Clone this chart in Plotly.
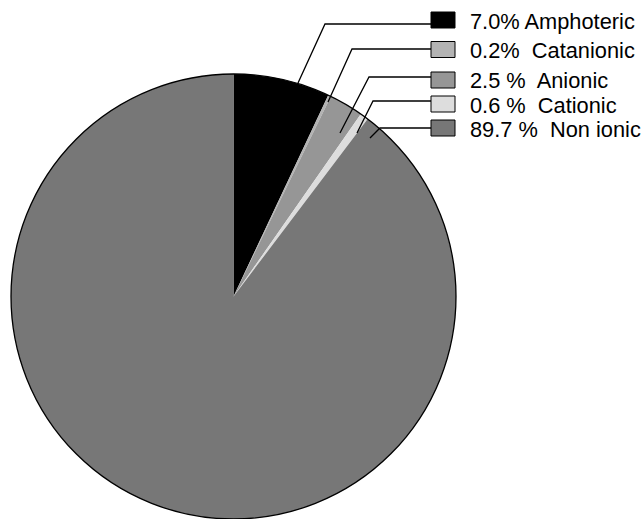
import plotly.graph_objects as go

# ---- data ----
categories = ["Amphoteric", "Catanionic", "Anionic", "Cationic", "Non ionic"]
values = [7.0, 0.2, 2.5, 0.6, 89.7]
label_texts = ["7.0% Amphoteric", "0.2%\u00a0 Catanionic", "2.5 %\u00a0 Anionic",
               "0.6 %\u00a0 Cationic", "89.7 %\u00a0 Non ionic"]
colors = ["#000000", "#b3b3b3", "#969696", "#dddddd", "#777777"]

W, H = 642, 519

# ---- layout geometry (pixels) ----
pie_cx, pie_top, pie_bottom, pie_left, pie_right = 234, 74, 519, 11, 456
# leader lines: anchor on slice -> elbow -> legend box
leaders = [
    [(298, 83), (325, 24), (431, 24)],
    [(328, 102), (352, 49), (431, 49)],
    [(340, 133), (369, 77), (431, 77)],
    [(357, 133), (373, 101), (431, 101)],
    [(370, 138), (380, 128), (431, 128)],
]
row_y = [20, 49.5, 80, 104, 128]
box_x0, box_x1, box_h = 431, 455, 16
text_x = 468


def px(x):
    return x / W


def py(y):
    return 1 - y / H


fig = go.Figure()
dom = dict(x=[px(pie_left), px(pie_right)], y=[py(pie_bottom), py(pie_top)])
fig.add_trace(go.Pie(
    labels=categories, values=values, sort=False, direction="clockwise",
    rotation=0, marker=dict(colors=colors, line=dict(width=0)),
    textinfo="none", hoverinfo="label+percent", showlegend=False, domain=dom,
))
# outline circle
fig.add_trace(go.Pie(
    values=[1], sort=False, marker=dict(colors=["rgba(0,0,0,0)"], line=dict(color="black", width=1.3)),
    textinfo="none", hoverinfo="skip", showlegend=False, domain=dom,
))

shapes = []
for pts in leaders:
    path = "M " + " L ".join(f"{px(x)},{py(y)}" for x, y in pts)
    shapes.append(dict(type="path", path=path, xref="paper", yref="paper",
                       line=dict(color="black", width=1.3)))
annotations = []
for i, (t, c) in enumerate(zip(label_texts, colors)):
    yc = row_y[i]
    shapes.append(dict(type="rect", xref="paper", yref="paper",
                       x0=px(box_x0), x1=px(box_x1),
                       y0=py(yc + box_h / 2), y1=py(yc - box_h / 2),
                       fillcolor=c, line=dict(color="black", width=1)))
    annotations.append(dict(text=t, x=px(text_x), y=py(yc + 1), xref="paper", yref="paper",
                            xanchor="left", yanchor="middle", showarrow=False,
                            font=dict(family="Liberation Sans, Arial", size=21.8, color="black")))

fig.update_layout(width=W, height=H, margin=dict(l=0, r=0, t=0, b=0),
                  paper_bgcolor="white", plot_bgcolor="white",
                  shapes=shapes, annotations=annotations)
fig.write_html("out.html")
